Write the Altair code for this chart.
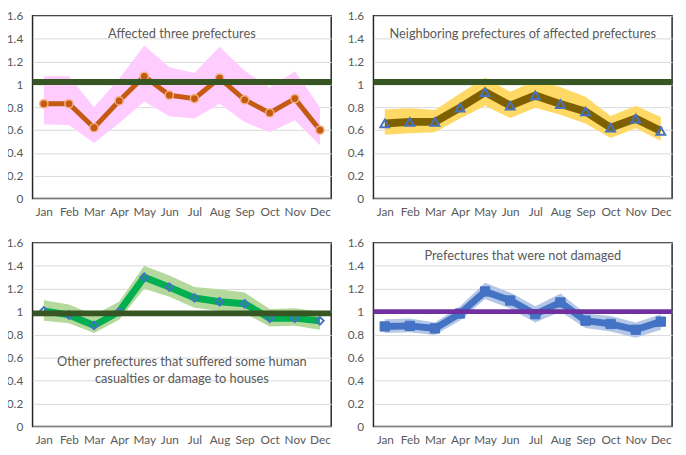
import altair as alt
import pandas as pd

months = ["Jan", "Feb", "Mar", "Apr", "May", "Jun", "Jul", "Aug", "Sep", "Oct", "Nov", "Dec"]

# Panel 1: Affected three prefectures
p1_val = [0.83, 0.83, 0.62, 0.855, 1.07, 0.905, 0.875, 1.055, 0.865, 0.75, 0.875, 0.60]
p1_hi = [1.07, 1.07, 0.80, 1.05, 1.34, 1.15, 1.10, 1.33, 1.12, 0.97, 1.115, 0.80]
p1_lo = [0.65, 0.645, 0.487, 0.66, 0.85, 0.72, 0.70, 0.83, 0.67, 0.58, 0.685, 0.467]
p1_ref = 1.02

# Panel 2: Neighboring prefectures
p2_val = [0.657, 0.671, 0.671, 0.796, 0.932, 0.813, 0.903, 0.827, 0.762, 0.62, 0.70, 0.592]
p2_hi = [0.78, 0.79, 0.776, 0.92, 1.06, 0.935, 1.034, 0.977, 0.892, 0.722, 0.813, 0.714]
p2_lo = [0.558, 0.572, 0.58, 0.70, 0.813, 0.705, 0.796, 0.733, 0.657, 0.53, 0.615, 0.507]
p2_ref = 1.02

# Panel 3: Other prefectures with some damage
p3_val = [1.006, 0.971, 0.88, 1.0, 1.30, 1.214, 1.12, 1.086, 1.069, 0.943, 0.943, 0.92]
p3_hi = [1.10, 1.063, 0.971, 1.086, 1.40, 1.314, 1.214, 1.194, 1.166, 1.023, 1.029, 1.0]
p3_lo = [0.92, 0.90, 0.814, 0.929, 1.20, 1.129, 1.034, 1.006, 0.986, 0.871, 0.877, 0.843]
p3_ref = 0.985

# Panel 4: Prefectures that were not damaged
p4_val = [0.871, 0.876, 0.854, 0.984, 1.176, 1.097, 0.978, 1.08, 0.922, 0.893, 0.842, 0.913]
p4_hi = [0.933, 0.941, 0.905, 1.046, 1.252, 1.167, 1.046, 1.159, 0.984, 0.961, 0.905, 0.978]
p4_lo = [0.814, 0.82, 0.797, 0.922, 1.111, 1.026, 0.905, 0.998, 0.857, 0.828, 0.772, 0.842]
p4_ref = 1.0

y_ticks = [0, 0.2, 0.4, 0.6, 0.8, 1.0, 1.2, 1.4, 1.6]

FONT = "Lato"
TXT = "#595959"
W = 304
H = 186


def panel(val, hi, lo, ref, title, title_y, band_color, line_color, line_w,
          shape, msize, mfill, mstroke, mstroke_w, ref_color, ref_w, height):
    df = pd.DataFrame({"month": months, "v": val, "hi": hi, "lo": lo})
    xscale = alt.Scale(type="point", padding=0.45)
    xaxis = alt.Axis(title=None, labelAngle=0, ticks=False, tickSize=0, domain=False,
                     labelPadding=8, labelColor=TXT, labelFont=FONT, labelFontSize=12,
                     grid=False)
    x = alt.X("month:N", sort=months, scale=xscale, axis=xaxis)
    yscale = alt.Scale(domain=[0, 1.6], nice=False)
    yaxis = alt.Axis(title=None, values=y_ticks,
                     labelExpr="format(datum.value, '.1~f')", ticks=False, tickSize=0,
                     domain=False, labelPadding=10, labelColor=TXT, labelFont=FONT,
                     labelFontSize=12, labelOverlap=False, grid=True, gridColor="#D9D9D9",
                     gridWidth=1)

    def Y(field):
        return alt.Y(field, scale=yscale, axis=yaxis)

    base = alt.Chart(df)
    area = base.mark_area(color=band_color, opacity=1).encode(
        x=x, y=Y("lo:Q"), y2="hi:Q")
    line = base.mark_line(color=line_color, strokeWidth=line_w).encode(
        x=x, y=Y("v:Q"))
    pt_kwargs = dict(shape=shape, size=msize, stroke=mstroke, strokeWidth=mstroke_w, opacity=1)
    if mfill is None:
        pts = base.mark_point(filled=False, **pt_kwargs)
    else:
        pts = base.mark_point(filled=True, fill=mfill, **pt_kwargs)
    pts = pts.encode(x=x, y=Y("v:Q"))
    rule = alt.Chart(pd.DataFrame({"r": [ref]})).mark_rule(
        color=ref_color, strokeWidth=ref_w).encode(y=Y("r:Q"))
    lines = title if isinstance(title, list) else [title]
    txt = alt.Chart(pd.DataFrame({"t": [lines], "ty": [title_y]})).mark_text(
        font=FONT, fontSize=13, color=TXT, align="center", baseline="middle",
        lineHeight=17).encode(x=alt.value(W / 2), y=Y("ty:Q"), text="t")
    return alt.layer(area, line, pts, rule, txt).properties(width=W, height=height)


c1 = panel(p1_val, p1_hi, p1_lo, p1_ref, "Affected three prefectures", 1.44,
           "#FFCCFF", "#C55A11", 5, "circle", 70, "#C55A11", "#F4B183", 1.5,
           "#375623", 6, H)
c2 = panel(p2_val, p2_hi, p2_lo, p2_ref, "Neighboring prefectures of affected prefectures", 1.44,
           "#FFD966", "#7F6000", 8, "triangle-up", 80, None, "#4472C4", 2,
           "#375623", 6, H)
c3 = panel(p3_val, p3_hi, p3_lo, p3_ref,
           ["Other prefectures that suffered some human", "casualties or damage to houses"], 0.56,
           "#B5D99C", "#00B050", 7, "diamond", 60, None, "#4472C4", 2,
           "#375623", 6, 187)
c4 = panel(p4_val, p4_hi, p4_lo, p4_ref, "Prefectures that were not damaged", 1.48,
           "#B4C7E7", "#4472C4", 7, "square", 90, "#4472C4", "#4472C4", 1,
           "#7030A0", 5, 187)

chart = alt.vconcat(
    alt.hconcat(c1, c2, spacing=11),
    alt.hconcat(c3, c4, spacing=11),
    spacing=18,
).properties(
    padding={"left": -3, "top": -3, "right": 0, "bottom": 0},
    background="white",
).configure_view(
    stroke="#262626", strokeWidth=1.5
)

chart.save("out.html", embed_options={"renderer": "svg", "actions": False})
